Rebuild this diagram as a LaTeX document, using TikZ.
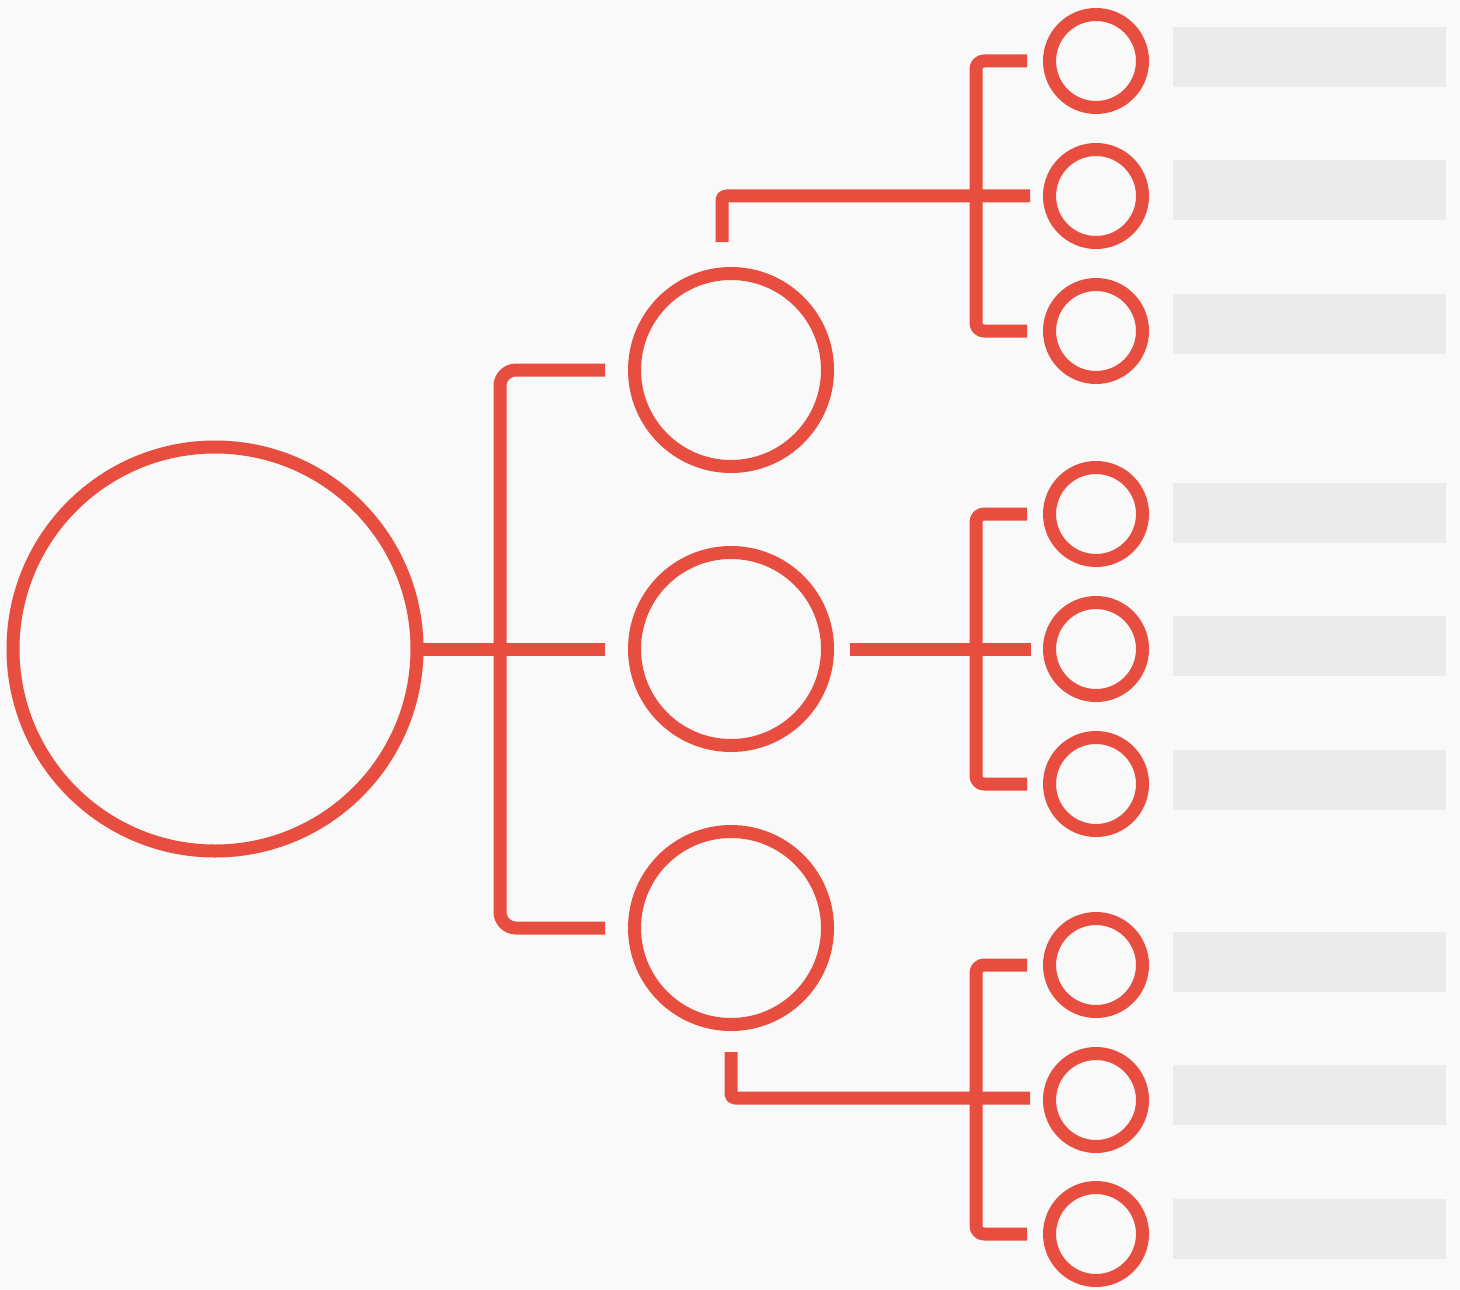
\documentclass[tikz,border=0pt]{standalone}
\usetikzlibrary{calc}

\definecolor{treered}{HTML}{E84E3F}
\definecolor{bargrey}{HTML}{EAEBEA}
\definecolor{paper}{HTML}{F9F9F9}

\begin{document}
\begin{tikzpicture}[x=0.5pt,y=-0.5pt]
\tikzset{
  ring/.style={circle,draw=treered,line width=6.5pt,inner sep=0pt,outer sep=0pt},
  rootring/.style={ring,minimum size=202pt},
  midring/.style={ring,minimum size=96.5pt},
  leafring/.style={ring,minimum size=46.5pt},
  labelbar/.style={fill=bargrey,draw=none,inner sep=0pt,minimum width=136.5pt,minimum height=30pt,anchor=west},
  link/.style={draw=treered,line width=6.5pt,line cap=butt,line join=round},
  rootbracket/.style={link,rounded corners=8pt},
  leafbracket/.style={link,rounded corners=4pt},
  elbow/.style={link,rounded corners=2pt}
}
% page background
\fill[paper] (0,0) rectangle (1460,1289);
\useasboundingbox (0,0) rectangle (1460,1289);
% root and middle level
\node[rootring] (n_root) at (215,649) {};
\node[midring] (n_m1) at (731,370) {};
\node[midring] (n_m2) at (731,649) {};
\node[midring] (n_m3) at (731,928) {};
% leaves
\node[leafring] (n_l1) at (1096,61) {};
\node[leafring] (n_l2) at (1096,196) {};
\node[leafring] (n_l3) at (1096,331) {};
\node[leafring] (n_l4) at (1096,514) {};
\node[leafring] (n_l5) at (1096,649) {};
\node[leafring] (n_l6) at (1096,784) {};
\node[leafring] (n_l7) at (1096,965) {};
\node[leafring] (n_l8) at (1096,1100) {};
\node[leafring] (n_l9) at (1096,1234) {};
% empty label bars
\node[labelbar] (b_l1) at (1173,57) {};
\node[labelbar] (b_l2) at (1173,190.5) {};
\node[labelbar] (b_l3) at (1173,323.5) {};
\node[labelbar] (b_l4) at (1173,512.5) {};
\node[labelbar] (b_l5) at (1173,645.5) {};
\node[labelbar] (b_l6) at (1173,779.5) {};
\node[labelbar] (b_l7) at (1173,961.5) {};
\node[labelbar] (b_l8) at (1173,1094.5) {};
\node[labelbar] (b_l9) at (1173,1228.5) {};
% root to middle level
\draw[link] ($(n_root)+(205,0)$) -- ($(n_m2)+(-126,0)$);
\draw[rootbracket] ($(n_m1)+(-126,0)$) -- ($(n_m1)+(-231,0)$) -- ($(n_m3)+(-231,0)$) -- ($(n_m3)+(-126,0)$);
% leaf brackets
\draw[leafbracket] ($(n_l1)+(-69,0)$) -- ($(n_l1)+(-120,0)$) -- ($(n_l3)+(-120,0)$) -- ($(n_l3)+(-69,0)$);
\draw[leafbracket] ($(n_l4)+(-69,0)$) -- ($(n_l4)+(-120,0)$) -- ($(n_l6)+(-120,0)$) -- ($(n_l6)+(-69,0)$);
\draw[leafbracket] ($(n_l7)+(-69,0)$) -- ($(n_l7)+(-120,0)$) -- ($(n_l9)+(-120,0)$) -- ($(n_l9)+(-69,0)$);
% middle level to leaf brackets
\draw[elbow] ($(n_m1)+(-9,-128)$) |- ($(n_l2)+(-66,0)$);
\draw[link] ($(n_m2)+(119,0)$) -- ($(n_l5)+(-65,0)$);
\draw[elbow] ($(n_m3)+(0,124)$) |- ($(n_l8)+(-66,-2)$);
\end{tikzpicture}
\end{document}
